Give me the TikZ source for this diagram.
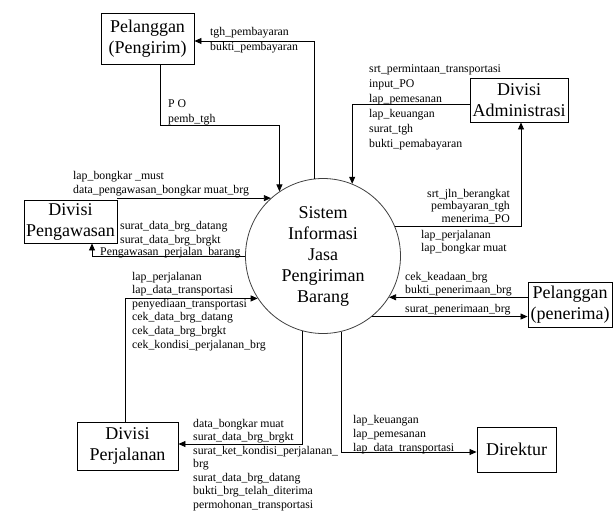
\documentclass[tikz,border=0pt]{standalone}
\usepackage{fontspec}
\setmainfont{Liberation Serif}
\usetikzlibrary{arrows.meta,positioning}

\begin{document}
\begin{tikzpicture}[
    x=1pt, y=-1pt,
    entity/.style={draw, line width=0.9pt, inner sep=2pt, align=center, font=\fontsize{18}{21}\selectfont},
    proc/.style={draw=black!75, line width=0.8pt, circle, minimum size=155pt, inner sep=0pt, align=center, font=\fontsize{18}{21}\selectfont},
    flow/.style={-{Triangle[length=7pt,width=6pt]}, line width=0.8pt},
    lbl/.style={inner sep=0pt, align=left, anchor=base west, font=\fontsize{11.8}{14}\selectfont},
]
\useasboundingbox (0,0) rectangle (615,511);

\node[proc] (sis) at (323,256) {Sistem\\Informasi\\Jasa\\Pengiriman\\Barang};
\node[entity, minimum width=93pt, minimum height=51pt] (pengirim) at (147.5,38.5) {Pelanggan\\(Pengirim)};
\node[entity, minimum width=98pt, minimum height=44pt] (admin) at (519,100) {Divisi\\Administrasi};
\node[entity, minimum width=93pt, minimum height=43pt] (pengawasan) at (70.5,221.5) {Divisi\\Pengawasan};
\node[entity, minimum width=84pt, minimum height=45pt] (penerima) at (570,304.5) {Pelanggan\\(penerima)};
\node[entity, minimum width=101pt, minimum height=48pt] (perjalanan) at (127.5,446) {Divisi\\Perjalanan};
\node[entity, minimum width=79pt, minimum height=45pt] (direktur) at (516.5,449.5) {Direktur};

\draw[flow] ([xshift=12.5pt]pengirim.south) -- ++(0,61) -| (sis.124.6);
\draw[flow] (sis.96.7) |- ([yshift=-2.5pt]pengirim.east);
\draw[flow] ([yshift=-4pt]admin.west) -| (sis.68);
\draw[flow] (sis.22.8) -| ([xshift=2pt]admin.south);
\draw[flow] (pengawasan.east |- sis.132.6) -- (sis.132.6);
\draw[flow] (sis.180.7) -| ([xshift=21.5pt]pengawasan.south);
\draw[flow] ([xshift=-2.5pt]perjalanan.north) |- (sis.213.7);
\draw[flow] (sis.255.8) |- ([yshift=2pt]perjalanan.east);
\draw[flow] (sis.284.2) |- ([yshift=-2.5pt]direktur.west);
\draw[flow] (penerima.west |- sis.328.1) -- (sis.328.1);
\draw[flow] (sis.309.2) -- (sis.309.2 -| penerima.west);

\node[lbl, font=\fontsize{11.8}{15}\selectfont] (l-tgh) at (210,51) {tgh\_pembayaran\\bukti\_pembayaran};
\node[lbl, font=\fontsize{11.8}{15}\selectfont] (l-po) at (168,122) {P O\\pemb\_tgh};
\node[lbl, font=\fontsize{11.8}{15}\selectfont] (l-adm) at (369,147) {srt\_permintaan\_transportasi\\input\_PO\\lap\_pemesanan\\lap\_keuangan\\surat\_tgh\\bukti\_pemabayaran};
\node[lbl, anchor=base east, align=right, font=\fontsize{11.8}{12.5}\selectfont] (l-srt) at (510,222) {srt\_jln\_berangkat\\pembayaran\_tgh\\menerima\_PO};
\node[lbl, font=\fontsize{11.8}{13.5}\selectfont] (l-lapj) at (421,251.5) {lap\_perjalanan\\lap\_bongkar muat};
\node[lbl] (l-bm) at (73,193) {lap\_bongkar \_must\\data\_pengawasan\_bongkar muat\_brg};
\node[lbl] (l-sd) at (120,243) {surat\_data\_brg\_datang\\surat\_data\_brg\_brgkt};
\node[lbl] (l-pp) at (100,255) {Pengawasan\_perjalan\_barang};
\node[lbl, font=\fontsize{11.8}{13.6}\selectfont] (l-pj) at (132,348) {lap\_perjalanan\\lap\_data\_transportasi\\penyediaan\_transportasi\\cek\_data\_brg\_datang\\cek\_data\_brg\_brgkt\\cek\_kondisi\_perjalanan\_brg};
\node[lbl, font=\fontsize{11.8}{13}\selectfont] (l-cek) at (405,293) {cek\_keadaan\_brg\\bukti\_penerimaan\_brg};
\node[lbl] (l-sp) at (405,312) {surat\_penerimaan\_brg};
\node[lbl, font=\fontsize{11.8}{13.5}\selectfont] (l-db) at (193,508) {data\_bongkar muat\\surat\_data\_brg\_brgkt\\surat\_ket\_kondisi\_perjalanan\_\\brg\\surat\_data\_brg\_datang\\bukti\_brg\_telah\_diterima\\permohonan\_transportasi};
\node[lbl] (l-lk) at (353,451) {lap\_keuangan\\lap\_pemesanan\\lap\_data\_transportasi};
\end{tikzpicture}
\end{document}
